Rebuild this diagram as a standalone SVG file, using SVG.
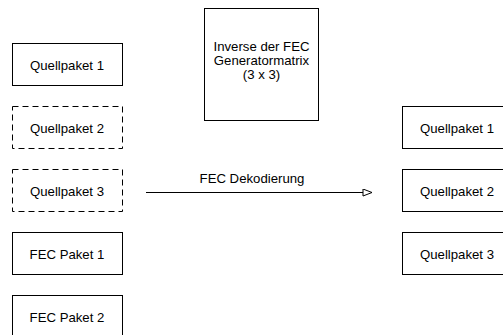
<svg xmlns="http://www.w3.org/2000/svg" width="503" height="335" viewBox="0 0 503 335">
<style>
.box{fill:#fff;stroke:#000;stroke-width:1}
.dash{stroke-dasharray:6 4}
text{font-family:"Liberation Sans",Arial,sans-serif;font-size:13.2px;fill:#000;text-anchor:middle}
</style>
<defs>
<marker id="arr" markerWidth="12" markerHeight="10" refX="10" refY="4" orient="auto" markerUnits="userSpaceOnUse">
<path d="M1,0.5 L10,4 L1,7.5 Z" fill="#fff" stroke="#000" stroke-width="1"/>
</marker>
</defs>
<rect width="503" height="335" fill="#fff"/>
<g id="q1"><rect class="box" x="12.5" y="43.5" width="110" height="42"/><text x="67" y="70">Quellpaket 1</text></g>
<g id="q2"><rect class="box dash" x="12.5" y="106.5" width="110" height="42"/><text x="67" y="133">Quellpaket 2</text></g>
<g id="q3"><rect class="box dash" x="12.5" y="169.5" width="110" height="42"/><text x="67" y="196">Quellpaket 3</text></g>
<g id="f1"><rect class="box" x="12.5" y="232.5" width="110" height="42"/><text x="67" y="259">FEC Paket 1</text></g>
<g id="f2"><rect class="box" x="12.5" y="295.5" width="110" height="42"/><text x="67" y="322">FEC Paket 2</text></g>
<g id="inv"><rect class="box" x="204.5" y="8.5" width="114" height="112"/>
<text x="261.5" y="51">Inverse der FEC</text>
<text x="261.5" y="65">Generatormatrix</text>
<text x="261.5" y="79">(3 x 3)</text></g>
<g id="r1"><rect class="box" x="402.5" y="106.5" width="110" height="42"/><text x="457" y="133">Quellpaket 1</text></g>
<g id="r2"><rect class="box" x="402.5" y="169.5" width="110" height="42"/><text x="457" y="196">Quellpaket 2</text></g>
<g id="r3"><rect class="box" x="402.5" y="232.5" width="110" height="42"/><text x="457" y="259">Quellpaket 3</text></g>
<g id="connectors">
<line x1="146" y1="192.5" x2="372" y2="192.5" stroke="#000" stroke-width="1" marker-end="url(#arr)"/>
<text x="252" y="183">FEC Dekodierung</text>
</g>
</svg>
